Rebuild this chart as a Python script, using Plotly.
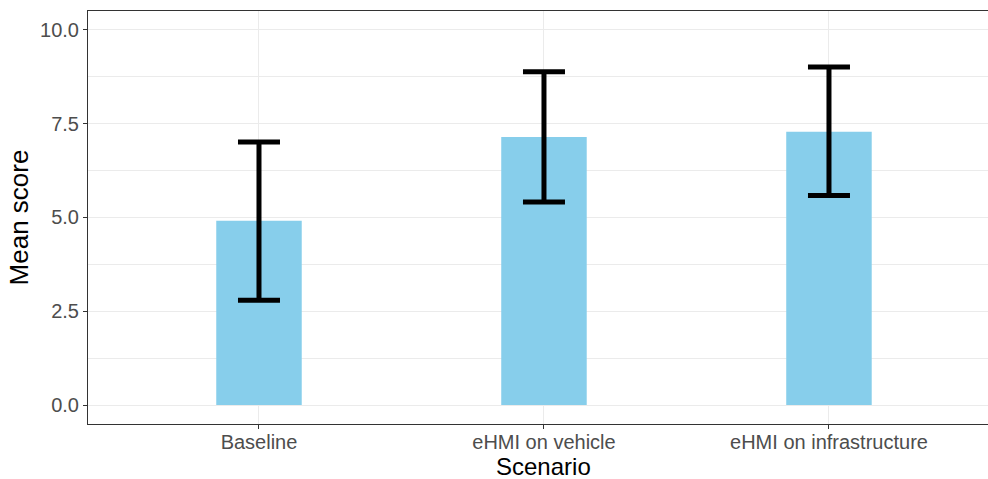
import plotly.graph_objects as go

categories = ["Baseline", "eHMI on vehicle", "eHMI on infrastructure"]
means = [4.91, 7.14, 7.28]
err_plus = [2.10, 1.74, 1.73]
err_minus = [2.12, 1.73, 1.70]
y_ticks = [0, 2.5, 5, 7.5, 10]
y_tick_labels = ["0.0", "2.5", "5.0", "7.5", "10.0"]

fig = go.Figure()
fig.add_trace(go.Bar(
    x=categories, y=means, width=0.3,
    marker=dict(color="#87CEEB", line=dict(width=0)),
    error_y=dict(type="data", symmetric=False, array=err_plus, arrayminus=err_minus,
                 color="black", thickness=5, width=21),
))

fig.update_layout(
    width=988, height=479,
    margin=dict(l=88, r=0, t=11, b=55),
    paper_bgcolor="white", plot_bgcolor="white",
    font=dict(family="Liberation Sans, Arial, sans-serif"),
    showlegend=False,
)
fig.add_annotation(
    text="Scenario", xref="paper", yref="paper", x=0.5056, y=0,
    xanchor="center", yanchor="top", yshift=-28, showarrow=False,
    font=dict(size=24, color="black"), borderpad=0,
)
fig.update_xaxes(
    type="category", range=[-0.6, 2.558],
    showgrid=True, gridcolor="#EBEBEB", gridwidth=1,
    showline=True, linecolor="#333333", linewidth=1, mirror=True,
    ticks="outside", ticklen=4, tickcolor="#333333", tickwidth=1,
    ticklabelstandoff=-4,
    tickfont=dict(size=20, color="#4D4D4D"),
    zeroline=False,
)
fig.update_yaxes(
    range=[-0.506, 10.5],
    tickvals=y_ticks, ticktext=y_tick_labels,
    showgrid=True, gridcolor="#EBEBEB", gridwidth=1,
    minor=dict(tickvals=[1.25, 3.75, 6.25, 8.75], showgrid=True, gridcolor="#EBEBEB", gridwidth=1, ticks=""),
    showline=True, linecolor="#333333", linewidth=1, mirror=False,
    ticks="outside", ticklen=4, tickcolor="#333333", tickwidth=1,
    tickfont=dict(size=20, color="#4D4D4D"),
    title=dict(text="Mean score", font=dict(size=26, color="black"), standoff=3),
    zeroline=False,
)

fig.write_html("out.html")
